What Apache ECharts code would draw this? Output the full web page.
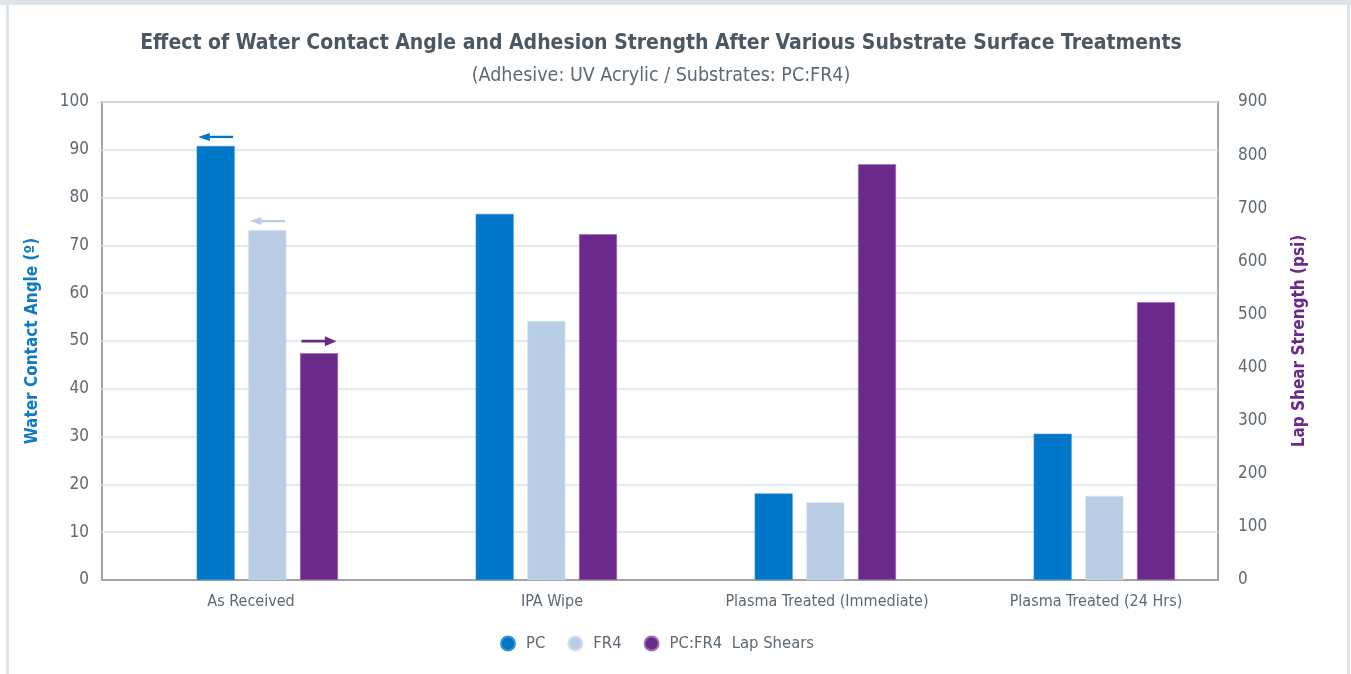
<!DOCTYPE html>
<html>
<head>
<meta charset="utf-8">
<script src="https://cdn.jsdelivr.net/npm/echarts@6/dist/echarts.min.js"></script>
<style>html,body{margin:0;padding:0;background:#fff;}#chart{width:1351px;height:674px;}</style>
</head>
<body>
<div id="chart"></div>
<script>
const categories = ['As Received', 'IPA Wipe', 'Plasma Treated (Immediate)', 'Plasma Treated (24 Hrs)'];
const pcAngle = [90.8, 76.6, 18.1, 30.6];
const fr4Angle = [73.2, 54.2, 16.2, 17.6];
const lapShear = [427, 651, 783, 523];
const seriesNames = ['PC', 'FR4', 'PC:FR4  Lap Shears'];
const leftAxisTitle = 'Water Contact Angle (º)';
const rightAxisTitle = 'Lap Shear Strength (psi)';
const titleText = 'Effect of Water Contact Angle and Adhesion Strength After Various Substrate Surface Treatments';
const subtitleText = '(Adhesive: UV Acrylic / Substrates: PC:FR4)';

const FONT = "'DejaVu Sans Condensed', 'Liberation Sans Narrow', 'Roboto', sans-serif";
const TXT = '#5d6873';
const C_PC = '#0077c8', C_FR4 = '#b9cde5', C_LAP = '#6b2a8b';
const labelShift = [19, 63, 55, 35];

const leftArrow = 'path://M0,5L12,0L12,3.6L36,3.6L36,6.4L12,6.4L12,10Z';
const rightArrow = 'path://M36,5L24,0L24,3.6L0,3.6L0,6.4L24,6.4L24,10Z';

function arrowMark(val, path, color, size, offY) {
  return {
    silent: true,
    label: { show: false },
    symbol: path,
    symbolSize: size,
    symbolOffset: [0, offY],
    itemStyle: { color: color },
    data: [{ coord: [0, val] }]
  };
}

const XF = 16;
const chart = echarts.init(document.getElementById('chart'));
chart.setOption({
  animation: false,
  textStyle: { fontFamily: FONT },
  graphic: [
    { type: 'rect', shape: { x: 0, y: 0, width: 1351, height: 5 }, style: { fill: '#dfe4e8' }, silent: true },
    { type: 'rect', shape: { x: 6, y: 0, width: 3, height: 674 }, style: { fill: '#dfe4e8' }, silent: true },
    { type: 'rect', shape: { x: 1347, y: 0, width: 3, height: 674 }, style: { fill: '#dfe4e8' }, silent: true }
  ],
  title: [
    { text: titleText, left: 656, top: 28, textAlign: 'center',
      textStyle: { fontFamily: FONT, fontSize: 21, fontWeight: 'bold', color: '#4b5761' } },
    { text: subtitleText, left: 656, top: 61, textAlign: 'center',
      textStyle: { fontFamily: FONT, fontSize: 19.5, fontWeight: 'normal', color: TXT } }
  ],
  legend: {
    data: seriesNames,
    bottom: 17,
    left: 495,
    icon: 'circle',
    itemWidth: 26,
    itemHeight: 14,
    itemGap: 22,
    textStyle: { fontFamily: FONT, fontSize: 16.5, color: TXT }
  },
  grid: {
    left: 102, right: 133, top: 102, bottom: 94,
    show: true, borderColor: '#a3a3a3', borderWidth: 2, backgroundColor: 'transparent'
  },
  xAxis: {
    type: 'category',
    data: categories,
    axisLine: { show: true, lineStyle: { color: '#a3a3a3', width: 2 } },
    axisTick: { show: false },
    axisLabel: {
      interval: 0,
      margin: 14,
      fontFamily: FONT, fontSize: XF, color: TXT,
      formatter: function (v, i) { return '{s' + i + '|' + v + '}'; },
      rich: {
        s0: { padding: [0, 0, 0, labelShift[0]], fontFamily: FONT, fontSize: XF, color: TXT },
        s1: { padding: [0, 0, 0, labelShift[1]], fontFamily: FONT, fontSize: XF, color: TXT },
        s2: { padding: [0, 0, 0, labelShift[2]], fontFamily: FONT, fontSize: XF, color: TXT },
        s3: { padding: [0, 0, 0, labelShift[3]], fontFamily: FONT, fontSize: XF, color: TXT }
      }
    }
  },
  yAxis: [
    {
      type: 'value', min: 0, max: 100, interval: 10,
      name: leftAxisTitle, nameLocation: 'middle', nameGap: 61, nameRotate: 90,
      nameTextStyle: { fontFamily: FONT, fontSize: 17, fontWeight: 'bold', color: '#0f7bc6' },
      axisLine: { show: false },
      axisTick: { show: true, length: 4, lineStyle: { color: '#dde2e8' } },
      axisLabel: { margin: 13, fontFamily: FONT, fontSize: 17, color: TXT },
      splitLine: { show: true, lineStyle: { color: '#dde2e8', width: 1.5 } }
    },
    {
      type: 'value', min: 0, max: 900, interval: 100,
      name: rightAxisTitle, nameLocation: 'middle', nameGap: 73, nameRotate: 90,
      nameTextStyle: { fontFamily: FONT, fontSize: 17, fontWeight: 'bold', color: C_LAP },
      axisLine: { show: false },
      axisTick: { show: false },
      axisLabel: { margin: 20, fontFamily: FONT, fontSize: 17, color: TXT },
      splitLine: { show: false }
    }
  ],
  series: [
    { name: '', type: 'bar', barWidth: 38, barGap: '36%', data: categories.map(() => null), silent: true },
    { name: seriesNames[0], type: 'bar', barWidth: 38, barGap: '36%', data: pcAngle,
      itemStyle: { color: C_PC, borderColor: '#3a93d3', borderWidth: 0.6 },
      markPoint: arrowMark(pcAngle[0], leftArrow, C_PC, [35, 8], -9) },
    { name: seriesNames[1], type: 'bar', barWidth: 38, barGap: '36%', data: fr4Angle,
      itemStyle: { color: C_FR4, borderColor: '#d3e0ef', borderWidth: 0.6 },
      markPoint: arrowMark(fr4Angle[0], leftArrow, C_FR4, [35, 8], -9) },
    { name: seriesNames[2], type: 'bar', barWidth: 38, barGap: '36%', yAxisIndex: 1, data: lapShear,
      itemStyle: { color: C_LAP, borderColor: '#9a6fb3', borderWidth: 0.6 },
      markPoint: arrowMark(lapShear[0], rightArrow, C_LAP, [35, 10], -12) }
  ]
});
</script>
</body>
</html>
